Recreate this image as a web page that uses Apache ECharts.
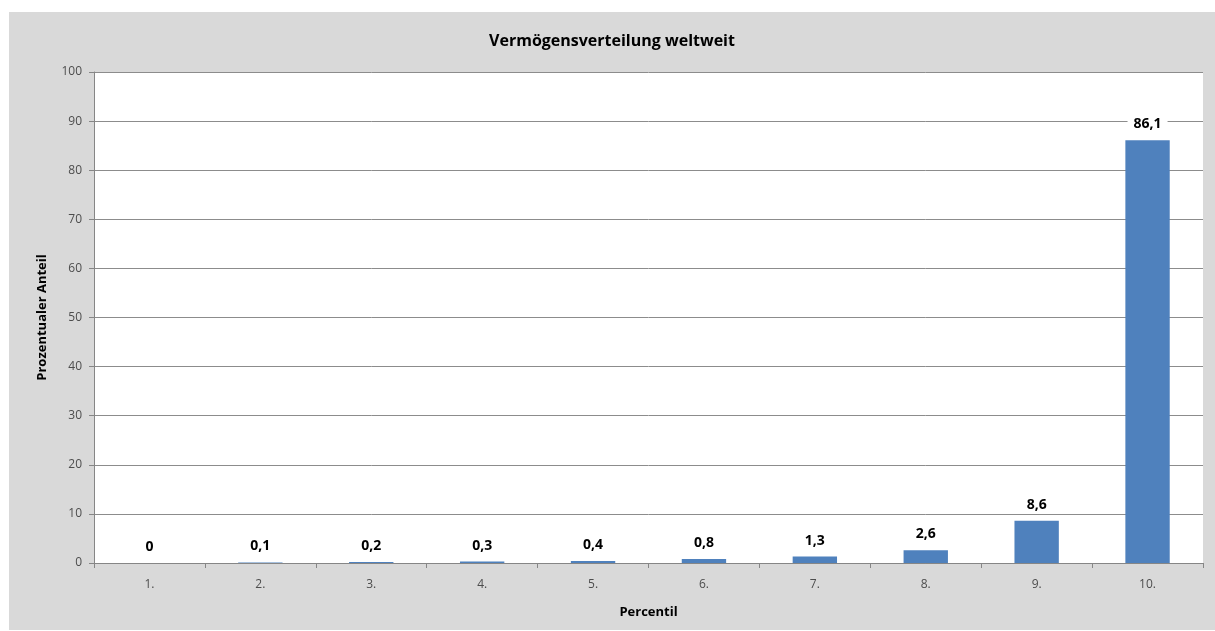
<!DOCTYPE html>
<html>
<head>
<meta charset="utf-8">
<script src="https://cdn.jsdelivr.net/npm/echarts@6/dist/echarts.min.js"></script>
<style>
  html, body { margin: 0; padding: 0; background: #fff; }
  #chart {
    position: absolute;
    left: 9px;
    top: 12px;
    width: 1206px;
    height: 618px;
    background: #d9d9d9;
  }
</style>
</head>
<body>
<div id="chart"></div>
<script>
// Vermögensverteilung weltweit
const categories = ['1.', '2.', '3.', '4.', '5.', '6.', '7.', '8.', '9.', '10.']
const shares = [0, 0.1, 0.2, 0.3, 0.4, 0.8, 1.3, 2.6, 8.6, 86.1]

const font = '"Open Sans", "Liberation Sans", sans-serif'

const chart = echarts.init(document.getElementById('chart'))
chart.setOption({
  animation: false,
  textStyle: { fontFamily: font },
  title: {
    text: 'Vermögensverteilung weltweit',
    left: 'center',
    top: 16,
    textStyle: { fontSize: 16, fontWeight: 'bold', color: '#000', fontFamily: font }
  },
  grid: {
    left: 85,
    right: 12,
    top: 60,
    bottom: 67,
    show: true,
    backgroundColor: '#fff',
    borderWidth: 0
  },
  xAxis: {
    type: 'category',
    data: categories,
    name: 'Percentil',
    nameLocation: 'middle',
    nameGap: 43,
    nameTextStyle: { fontSize: 13, fontWeight: 'bold', color: '#000' },
    axisLine: { lineStyle: { color: '#868686', width: 1 } },
    axisTick: { show: true, alignWithLabel: false, length: 5, lineStyle: { color: '#868686' } },
    axisLabel: { fontSize: 12, color: '#4d4d4d', margin: 16 }
  },
  yAxis: {
    type: 'value',
    min: 0,
    max: 100,
    interval: 10,
    name: 'Prozentualer Anteil',
    nameLocation: 'middle',
    nameGap: 45,
    nameTextStyle: { fontSize: 13, fontWeight: 'bold', color: '#000' },
    axisLine: { show: true, lineStyle: { color: '#868686', width: 1 } },
    axisTick: { show: true, length: 5, lineStyle: { color: '#868686' } },
    axisLabel: { fontSize: 12, color: '#4d4d4d', margin: 12 },
    splitLine: { lineStyle: { color: '#8c8c8c', width: 1 } }
  },
  series: [
    {
      type: 'bar',
      data: shares,
      barWidth: '40%',
      itemStyle: { color: '#4f81bd' },
      label: {
        show: true,
        position: 'top',
        distance: 9,
        fontSize: 14,
        fontWeight: 'bold',
        color: '#000',
        backgroundColor: '#fff',
        padding: [0, 6],
        formatter: p => String(p.value).replace('.', ',')
      }
    }
  ]
})
</script>
</body>
</html>
